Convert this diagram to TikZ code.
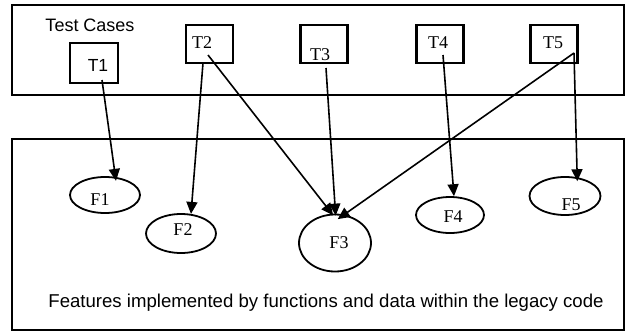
\documentclass[tikz,border=0pt]{standalone}
\usepackage{fontspec}
\setmainfont{Liberation Serif}
\setsansfont{Liberation Sans}
\usetikzlibrary{arrows.meta,shapes.geometric}
\begin{document}
\begin{tikzpicture}[x=1pt,y=-1pt,
  frame/.style={draw,line width=2.2pt,inner sep=0pt},
  tbox/.style={draw,line width=2.2pt,minimum width=47pt,minimum height=38pt,inner sep=0pt},
  feat/.style={draw,ellipse,line width=1.8pt,inner sep=0pt},
  lbl/.style={font=\fontsize{18}{20}\selectfont,inner sep=0pt},
  sanslbl/.style={font=\sffamily\fontsize{18}{20}\selectfont,inner sep=0pt},
  link/.style={line width=1.6pt,-{Triangle[length=12pt,width=11pt]}}]
\useasboundingbox (0,0) rectangle (626,332);
% frames
\node[frame,minimum width=612pt,minimum height=90pt] (top) at (318,50) {};
\node[frame,minimum width=612pt,minimum height=191pt] (bottom) at (318,234.5) {};
\node[sanslbl] (tc) at (90,25) {Test Cases};
\node[sanslbl,font=\sffamily\fontsize{18.6}{21}\selectfont] (feat) at (326,303) {Features implemented by functions and data within the legacy code};
% test case boxes
\node[tbox,minimum width=48pt,minimum height=40pt] (T1) at (94,63) {};
\node[tbox] (T2) at (209.5,44) {};
\node[tbox] (T3) at (324,44) {};
\node[tbox] (T4) at (440,44) {};
\node[tbox] (T5) at (554,44) {};
\node[sanslbl,font=\sffamily\fontsize{17.5}{20}\selectfont] (T1t) at (98,65) {T1};
\node[lbl] (T2t) at (202,43) {T2};
\node[lbl] (T3t) at (320,55) {T3};
\node[lbl] (T4t) at (438,43) {T4};
\node[lbl] (T5t) at (553,43) {T5};
% features
\node[feat,minimum width=70pt,minimum height=36pt] (F1) at (105,195) {};
\node[feat,minimum width=70pt,minimum height=39pt] (F2) at (181,233.5) {};
\node[feat,minimum width=72pt,minimum height=57pt] (F3) at (335,243) {};
\node[feat,minimum width=68pt,minimum height=36pt] (F4) at (450,215) {};
\node[feat,minimum width=71pt,minimum height=38pt] (F5) at (565,196) {};
\node[lbl] (F1t) at (100,200) {F1};
\node[lbl] (F2t) at (183,230) {F2};
\node[lbl] (F3t) at (339,243) {F3};
\node[lbl] (F4t) at (453,217) {F4};
\node[lbl] (F5t) at (571,205) {F5};
% connector start points
\coordinate (s1) at (102,80);
\coordinate (s2a) at (203,63);
\coordinate (s2b) at (208,55);
\coordinate (s3) at (326,68);
\coordinate (s4) at (443,55);
\coordinate (s5) at (574,53);
% connectors
\draw[link,shorten >=-4pt] (s1) -- (F1.60);
\draw[link] (s2a) -- (F2.63);
\draw[link,shorten >=-2pt] (s2b) -- (F3.96);
\draw[link,shorten >=-2pt] (s3) -- (F3.89);
\draw[link] (s4) -- (F4.78);
\draw[link,shorten >=-4pt] (s5) -- (F5.57);
\draw[link,shorten >=-8pt] (s5) -- (F3.72);
\end{tikzpicture}
\end{document}
